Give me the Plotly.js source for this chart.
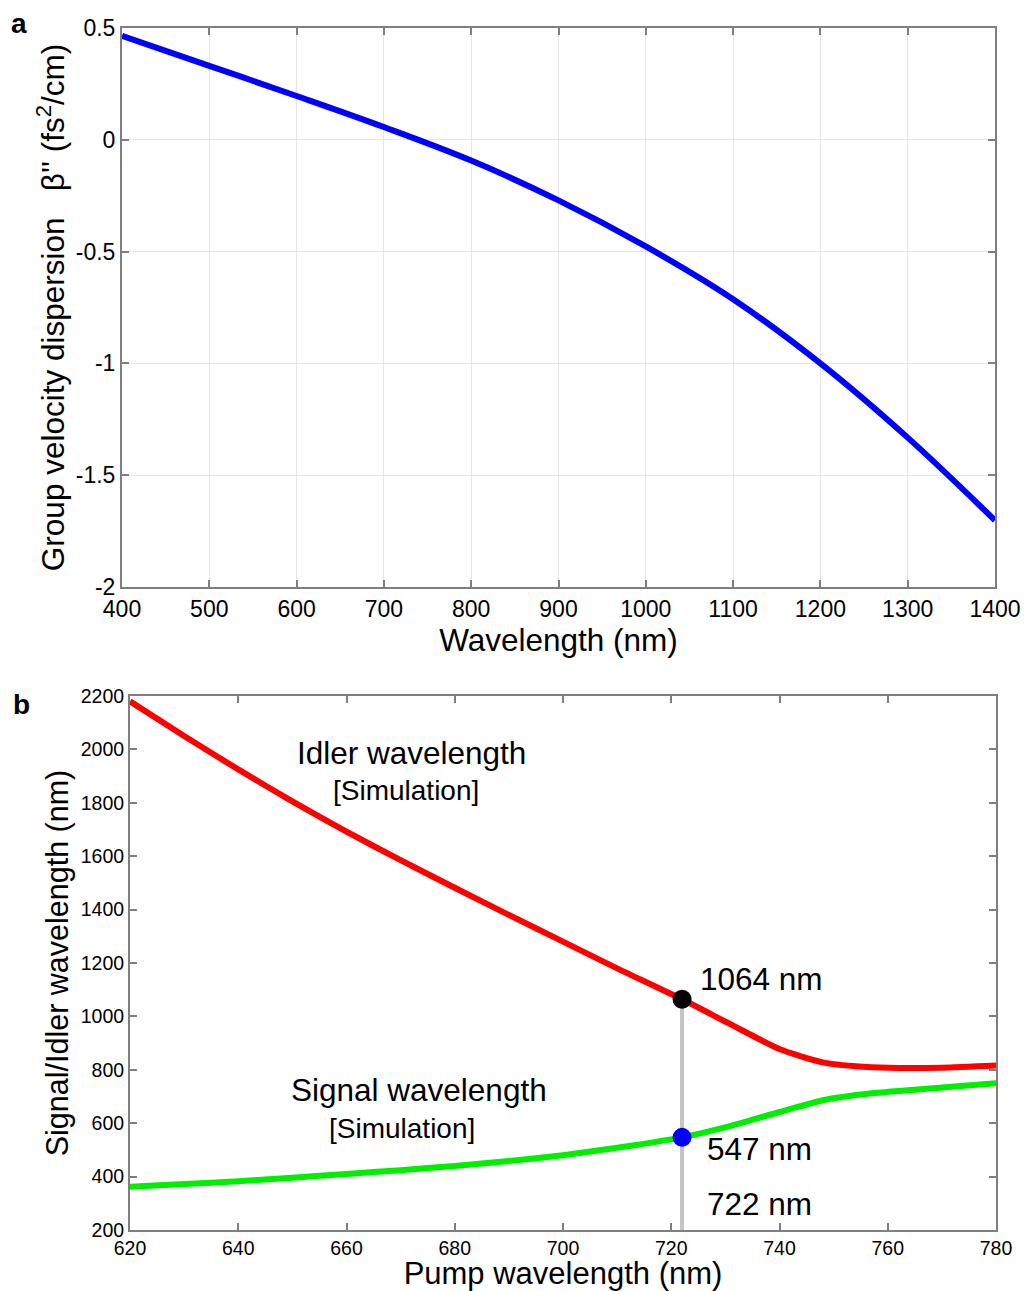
<!DOCTYPE html>
<html><head><meta charset="utf-8">
<script src="https://cdn.plot.ly/plotly-3.0.1.min.js"></script>
<style>html,body{margin:0;padding:0;background:#fff}#chart{width:1024px;height:1291px}</style>
</head><body><div id="chart"></div>
<script>
// Panel a: group velocity dispersion
const gvdWavelength = [400, 500, 600, 700, 800, 900, 1000, 1100, 1200, 1300, 1400];
const gvdBeta = [0.465, 0.331, 0.196, 0.057, -0.093, -0.271, -0.477, -0.713, -1.0, -1.332, -1.702];
const gvdXTicks = [400, 500, 600, 700, 800, 900, 1000, 1100, 1200, 1300, 1400];
const gvdYTicks = [0.5, 0, -0.5, -1, -1.5, -2];
const gvdYTickText = ["0.5", "0", "-0.5", "-1", "-1.5", "-2"];

// Panel b: signal / idler
const pumpWavelength = [620, 630, 640, 650, 660, 670, 680, 690, 700, 710, 722, 731, 740, 748, 757, 770, 780];
const idlerWavelength = [2180, 2050, 1925, 1805, 1692, 1585, 1482, 1380, 1280, 1180, 1064, 970, 878, 828, 810, 808, 816];
const signalWavelength = [362, 372, 383, 396, 410, 424, 440, 458, 480, 508, 547, 590, 642, 686, 712, 734, 750];
const markPump = [722];
const markIdler = [1064];
const markSignal = [547];
const pumpXTicks = [620, 640, 660, 680, 700, 720, 740, 760, 780];
const pumpYTicks = [200, 400, 600, 800, 1000, 1200, 1400, 1600, 1800, 2000, 2200];

const FONT = "Liberation Sans, Arial, sans-serif";
const axCol = "#7f7f7f";

const traces = [
  {x: gvdWavelength, y: gvdBeta, xaxis: "x", yaxis: "y", mode: "lines", line: {color: "#0000ff", width: 6, shape: "spline"}, hoverinfo: "skip"},
  {x: [markPump[0], markPump[0]], y: [200, markIdler[0]], xaxis: "x2", yaxis: "y2", mode: "lines", line: {color: "#c4c4c4", width: 4}, hoverinfo: "skip"},
  {x: pumpWavelength, y: idlerWavelength, xaxis: "x2", yaxis: "y2", mode: "lines", line: {color: "#ff0000", width: 6, shape: "spline", smoothing: 0.6}, hoverinfo: "skip"},
  {x: pumpWavelength, y: signalWavelength, xaxis: "x2", yaxis: "y2", mode: "lines", line: {color: "#00ee00", width: 6, shape: "spline", smoothing: 0.6}, hoverinfo: "skip"},
  {x: markPump, y: markIdler, xaxis: "x2", yaxis: "y2", mode: "markers", marker: {color: "#000000", size: 19}, hoverinfo: "skip"},
  {x: markPump, y: markSignal, xaxis: "x2", yaxis: "y2", mode: "markers", marker: {color: "#0000ff", size: 19}, hoverinfo: "skip"}
];

const baseAxis = {
  showline: true, linecolor: axCol, linewidth: 2, mirror: "ticks",
  ticks: "inside", ticklen: 7, tickcolor: axCol, tickwidth: 2,
  zeroline: false, fixedrange: true
};

const layout = {
  width: 1024, height: 1291,
  margin: {l: 0, r: 0, t: 0, b: 0},
  paper_bgcolor: "#fff", plot_bgcolor: "#fff",
  showlegend: false,
  font: {family: FONT, color: "#000"},
  xaxis: Object.assign({}, baseAxis, {
    domain: [122/1024, 995/1024], anchor: "y", range: [400, 1400],
    tickvals: gvdXTicks, tickfont: {size: 23, family: FONT, color: "#000"},
    showgrid: true, gridcolor: "#e6e6e6", gridwidth: 1,
    title: {text: "Wavelength (nm)", font: {size: 31.5, family: FONT, color: "#000"}, standoff: 0}
  }),
  yaxis: Object.assign({}, baseAxis, {
    domain: [1 - 587/1291, 1 - 28/1291], anchor: "x", range: [-2, 0.5],
    tickvals: gvdYTicks, ticktext: gvdYTickText, tickfont: {size: 23, family: FONT, color: "#000"},
    showgrid: true, gridcolor: "#e6e6e6", gridwidth: 1,
    title: {text: "Group velocity dispersion   β'' (fs<sup>2</sup>/cm)", font: {size: 31.5, family: FONT, color: "#000"}, standoff: 2}
  }),
  xaxis2: Object.assign({}, baseAxis, {
    domain: [130/1024, 996/1024], anchor: "y2", range: [620, 780],
    tickvals: pumpXTicks, tickfont: {size: 19.5, family: FONT, color: "#000"},
    showgrid: false,
    title: {text: "Pump wavelength (nm)", font: {size: 31, family: FONT, color: "#000"}, standoff: 0}
  }),
  yaxis2: Object.assign({}, baseAxis, {
    domain: [1 - 1230/1291, 1 - 696/1291], anchor: "x2", range: [200, 2200],
    tickvals: pumpYTicks, tickfont: {size: 19.5, family: FONT, color: "#000"},
    showgrid: false,
    title: {text: "Signal/Idler wavelength (nm)", font: {size: 30.5, family: FONT, color: "#000"}, standoff: 3}
  }),
  annotations: [
    {text: "<b>a</b>", xref: "paper", yref: "paper", x: 9/1024, y: 1 - 23/1291, xanchor: "left", yanchor: "middle", showarrow: false, font: {size: 28, family: FONT, color: "#000"}},
    {text: "<b>b</b>", xref: "paper", yref: "paper", x: 11/1024, y: 1 - 704/1291, xanchor: "left", yanchor: "middle", showarrow: false, font: {size: 28, family: FONT, color: "#000"}},
    {text: "Idler wavelength", xref: "x2", yref: "y2", x: 672, y: 1985, xanchor: "center", yanchor: "middle", showarrow: false, font: {size: 31.5, family: FONT, color: "#000"}},
    {text: "[Simulation]", xref: "x2", yref: "y2", x: 670.9, y: 1845, xanchor: "center", yanchor: "middle", showarrow: false, font: {size: 28, family: FONT, color: "#000"}},
    {text: "Signal wavelength", xref: "x2", yref: "y2", x: 673.4, y: 725, xanchor: "center", yanchor: "middle", showarrow: false, font: {size: 31.5, family: FONT, color: "#000"}},
    {text: "[Simulation]", xref: "x2", yref: "y2", x: 670.3, y: 580, xanchor: "center", yanchor: "middle", showarrow: false, font: {size: 28, family: FONT, color: "#000"}},
    {text: "1064 nm", xref: "x2", yref: "y2", x: 725.0, y: 1140, xanchor: "left", yanchor: "middle", showarrow: false, font: {size: 31.5, family: FONT, color: "#000"}},
    {text: "547 nm", xref: "x2", yref: "y2", x: 726.2, y: 505, xanchor: "left", yanchor: "middle", showarrow: false, font: {size: 31.5, family: FONT, color: "#000"}},
    {text: "722 nm", xref: "x2", yref: "y2", x: 726.2, y: 298, xanchor: "left", yanchor: "middle", showarrow: false, font: {size: 31.5, family: FONT, color: "#000"}}
  ]
};

Plotly.newPlot("chart", traces, layout, {staticPlot: true, displayModeBar: false});
</script></body></html>
